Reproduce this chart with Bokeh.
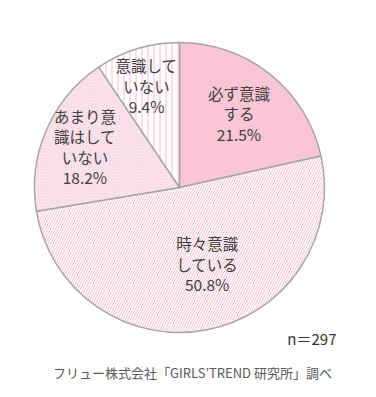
import math
from bokeh.plotting import figure
from bokeh.models import Range1d, Label
from bokeh.embed import file_html
from bokeh.resources import INLINE

# ---- data ----
categories = ["必ず意識\nする", "時々意識\nしている", "あまり意\n識はして\nいない", "意識して\nいない"]
shares = [21.5, 50.8, 18.2, 9.4]
sample_note = "n＝297"
source_note = "フリュー株式会社「GIRLS’TREND 研究所」調べ"

# ---- style ----
fills = ["#FAC6D6", "#FFFFFF", "#FBE6EE", "#FFFFFF"]
hatches = [" ", "/", "x", "|"]
hatch_colors = ["#FAC6D6", "#F2BDCF", "#F5CEDB", "#F4BCD0"]
hatch_scales = [6, 5, 3, 6]
hatch_weights = [1, 1, 0.5, 1]
# label placement: (radial distance px, angular nudge deg)
label_pos = [(95, 0), (81, -9), (103, 0), (107, -1)]

W, H = 360, 381
dx, dy = 7, -7
cx, cy, R = 172 + dx, 201 + dy, 145
FONT = "Noto Sans CJK JP"
fs = 15.5
line_h = 20.5

p = figure(width=W, height=H, output_backend="svg", toolbar_location=None,
           x_range=Range1d(0, W), y_range=Range1d(0, H), min_border=0)
p.axis.visible = False
p.grid.visible = False
p.outline_line_color = None
p.background_fill_color = "white"
p.border_fill_color = "white"

total = sum(shares)
cum = 0.0
starts, ends, mids = [], [], []
for s in shares:
    a0 = math.pi / 2 - 2 * math.pi * cum / total
    cum += s
    a1 = math.pi / 2 - 2 * math.pi * cum / total
    starts.append(a0)
    ends.append(a1)
    mids.append((a0 + a1) / 2)

for i in range(len(shares)):
    p.wedge(x=cx, y=cy, radius=R, start_angle=starts[i], end_angle=ends[i],
            direction="clock", fill_color=fills[i], line_color="#A6A6A6",
            line_width=1.5, hatch_pattern=hatches[i], hatch_color=hatch_colors[i],
            hatch_scale=hatch_scales[i], hatch_weight=hatch_weights[i])

for i, (cat, s) in enumerate(zip(categories, shares)):
    r, nudge = label_pos[i]
    ang = mids[i] - math.radians(nudge)
    lx = cx + r * math.cos(ang)
    ly = cy + r * math.sin(ang)
    lines = cat.split("\n") + [f"{s}%"]
    n = len(lines)
    for j, t in enumerate(lines):
        yy = ly + ((n - 1) / 2 - j) * line_h
        p.add_layout(Label(x=lx, y=yy, text=t, text_align="center",
                           text_baseline="middle", text_font=FONT,
                           text_font_size=f"{fs}px", text_color="#404040"))

p.add_layout(Label(x=329 + dx, y=50 + dy, text=sample_note, text_align="right",
                   text_baseline="middle", text_font=FONT,
                   text_font_size="15px", text_color="#333333"))
p.add_layout(Label(x=185 + dx, y=16 + dy, text=source_note, text_align="center",
                   text_baseline="middle", text_font=FONT,
                   text_font_size="13px", text_color="#595959"))

open("out.html", "w").write(file_html(p, INLINE))
